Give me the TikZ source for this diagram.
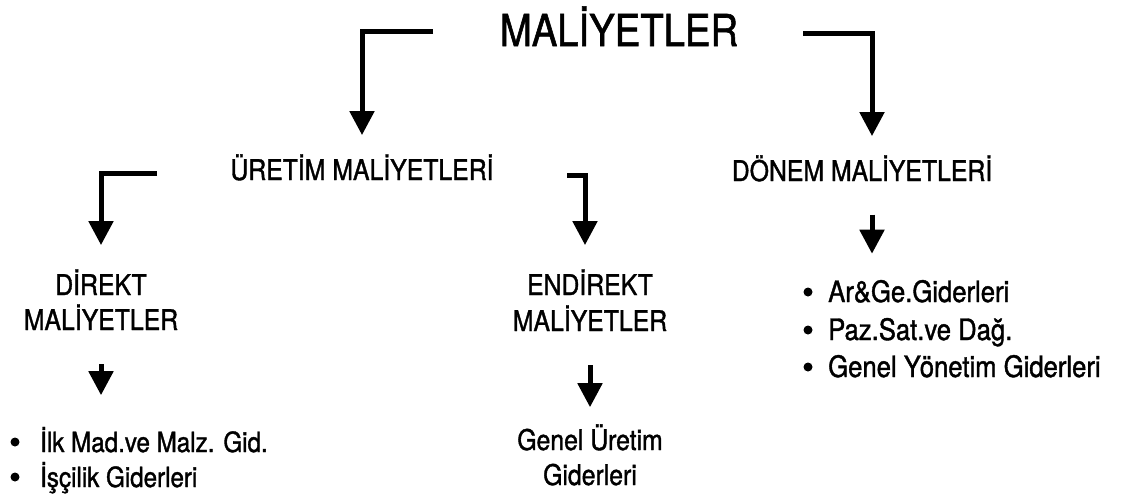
\documentclass[tikz,border=0pt]{standalone}
\usepackage{fontspec}
\setmainfont{TeX Gyre Heros}[FakeStretch=0.87,FakeBold=1.3]
\usetikzlibrary{arrows.meta}
\begin{document}
\begin{tikzpicture}[x=1pt,y=-1pt,
  lbl/.style={inner sep=0pt, anchor=base},
  toptitle/.style={lbl, font=\fontsize{44}{48}\selectfont},
  head/.style={lbl, font=\fontsize{28.5}{30}\selectfont},
  item/.style={lbl, anchor=base west, font=\fontsize{29.5}{30}\selectfont},
  smallitem/.style={item, font=\fontsize{27.8}{30}\selectfont},
  dot/.style={circle, fill=black, inner sep=0pt, minimum size=9pt},
  flow/.style={line width=5pt, -{Triangle[width=24pt,length=24pt]}}
]
\useasboundingbox (0,0) rectangle (1122,499);

% headings
\node[toptitle] (title) at (619,46) {MALİYETLER};
\node[head] (uretim) at (362,180) {ÜRETİM MALİYETLERİ};
\node[head] (donem) at (862,181) {DÖNEM MALİYETLERİ};
\node[head] (direkt) at (101,295) {DİREKT};
\node[head] (direktb) at (101,330) {MALİYETLER};
\node[head] (endirekt) at (590,295) {ENDİREKT};
\node[head] (endirektb) at (590,331) {MALİYETLER};
\node[head] (genel) at (590,450) {Genel Üretim};
\node[head] (genelb) at (590,485) {Giderleri};

% direct cost items
\node[dot] (b1) at (15,442) {};
\node[dot] (b2) at (15,477) {};
\node[smallitem] (i1) at (40,452) {İlk Mad.ve Malz. Gid.};
\node[smallitem] (i2) at (40,487) {İşçilik Giderleri};

% period cost items
\node[dot] (b3) at (808,292) {};
\node[dot] (b4) at (808,330) {};
\node[dot] (b5) at (808,367) {};
\node[item] (p1) at (828,302) {Ar\&Ge.Giderleri};
\node[item] (p2) at (828,340) {Paz.Sat.ve Dağ.};
\node[item] (p3) at (828,377) {Genel Yönetim Giderleri};

% anchor points of the elbow connectors
\coordinate (t1) at (433,31);
\coordinate (t2) at (803,33);
\coordinate (u1) at (157,173);
\coordinate (u2) at (567,175);

% connectors
\draw[flow] (t1) -| ([yshift=19pt]uretim.north);
\draw[flow] (t2) -| ([xshift=10pt,yshift=19pt]donem.north);
\draw[flow] (u1) -| ([yshift=24pt]direkt.north);
\draw[flow] (u2) -| ([xshift=-5pt,yshift=24pt]endirekt.north);
\draw[flow] ([yshift=-34pt]direktb.south) -- ([yshift=-65pt]direktb.south);
\draw[flow] ([yshift=-34pt]endirektb.south) -- ([yshift=-76pt]endirektb.south);
\draw[flow] ([xshift=10pt,yshift=-33pt]donem.south) -- ([xshift=10pt,yshift=-72pt]donem.south);
\end{tikzpicture}
\end{document}
